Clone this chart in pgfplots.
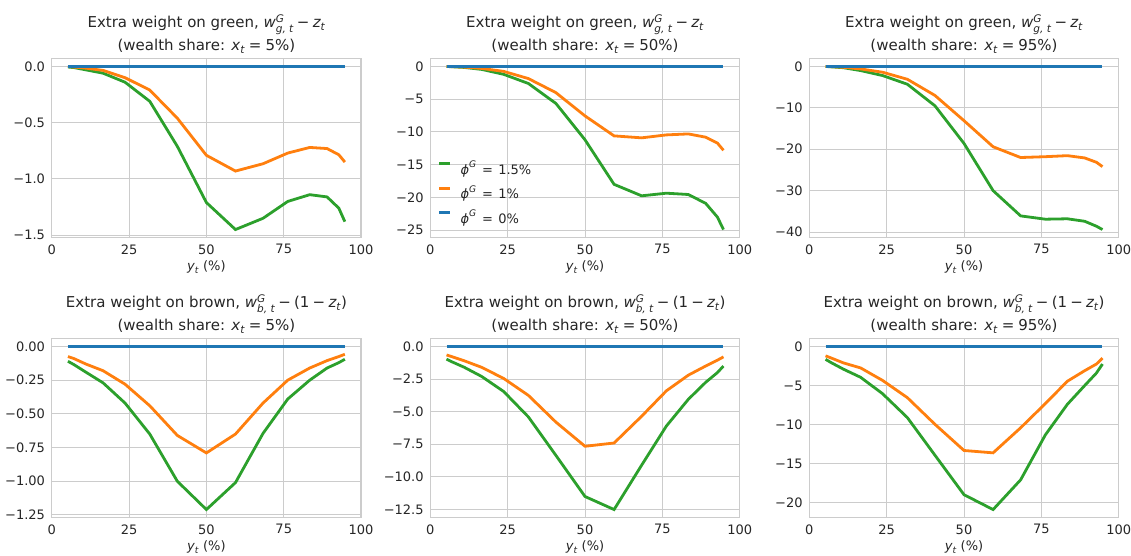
\documentclass[border=0pt]{standalone}
\usepackage{amsmath}
\usepackage{fontspec}
\setmainfont{DejaVu Sans}
\usepackage{pgfplots}
\usepackage{pgfplotstable}
\pgfplotsset{compat=1.18}
\definecolor{tabblue}{HTML}{1F77B4}
\definecolor{taborange}{HTML}{FF7F0E}
\definecolor{tabgreen}{HTML}{2CA02C}
\definecolor{gridc}{HTML}{CCCCCC}
\definecolor{textc}{HTML}{262626}
\newcommand{\mi}[1]{\text{\itshape #1}}
\newcommand{\mminus}{\mathbin{\text{−}}}
\newcommand{\meq}{\mathrel{\text{=}}}
\newcommand{\mn}{\makebox[0.838em][c]{−}}

% columns: y_t (%), green phi=1.5%, orange phi=1%, blue phi=0%
\pgfplotstableread{
x g o b
5.25 -0.005 0.000 0
7.2 -0.010 -0.005 0
11.0 -0.030 -0.015 0
16.6 -0.060 -0.035 0
23.7 -0.140 -0.100 0
31.7 -0.310 -0.210 0
40.6 -0.710 -0.460 0
50.0 -1.210 -0.790 0
59.4 -1.450 -0.930 0
68.3 -1.350 -0.865 0
76.3 -1.200 -0.770 0
83.4 -1.140 -0.720 0
89.0 -1.160 -0.730 0
92.8 -1.260 -0.785 0
94.75 -1.380 -0.850 0
}\greenA
\pgfplotstableread{
x g o b
5.25 0 0 0
7.2 -0.05 -0.03 0
11.0 -0.15 -0.10 0
16.6 -0.45 -0.30 0
23.7 -1.2 -0.75 0
31.7 -2.6 -1.85 0
40.6 -5.65 -4.0 0
50.0 -11.2 -7.55 0
59.4 -18.0 -10.6 0
68.3 -19.75 -10.9 0
76.3 -19.35 -10.45 0
83.4 -19.55 -10.3 0
89.0 -20.9 -10.8 0
92.8 -23.0 -11.7 0
94.75 -24.9 -12.8 0
}\greenB
\pgfplotstableread{
x g o b
5.25 0 0 0
7.2 -0.1 -0.05 0
11.0 -0.3 -0.2 0
16.6 -1.0 -0.6 0
23.7 -2.2 -1.4 0
31.7 -4.3 -3.1 0
40.6 -9.5 -7.0 0
50.0 -18.6 -13.1 0
59.4 -30.0 -19.4 0
68.3 -36.1 -22.0 0
76.3 -36.9 -21.8 0
83.4 -36.8 -21.55 0
89.0 -37.4 -22.1 0
92.8 -38.6 -23.15 0
94.75 -39.4 -24.2 0
}\greenC
\pgfplotstableread{
x g o b
5.25 -0.110 -0.075 0
7.2 -0.135 -0.090 0
11.0 -0.190 -0.130 0
16.6 -0.270 -0.180 0
23.7 -0.420 -0.280 0
31.7 -0.650 -0.440 0
40.6 -1.000 -0.660 0
50.0 -1.210 -0.790 0
59.4 -1.010 -0.650 0
68.3 -0.645 -0.420 0
76.3 -0.390 -0.250 0
83.4 -0.250 -0.160 0
89.0 -0.160 -0.105 0
92.8 -0.120 -0.075 0
94.75 -0.095 -0.058 0
}\brownA
\pgfplotstableread{
x g o b
5.25 -0.97 -0.65 0
7.2 -1.2 -0.8 0
11.0 -1.6 -1.1 0
16.6 -2.3 -1.6 0
23.7 -3.45 -2.45 0
31.7 -5.4 -3.75 0
40.6 -8.35 -5.8 0
50.0 -11.5 -7.65 0
59.4 -12.5 -7.4 0
68.3 -9.1 -5.35 0
76.3 -6.1 -3.4 0
83.4 -4.05 -2.2 0
89.0 -2.75 -1.5 0
92.8 -2.0 -1.05 0
94.75 -1.5 -0.8 0
}\brownB
\pgfplotstableread{
x g o b
5.25 -1.65 -1.2 0
7.2 -2.1 -1.5 0
11.0 -2.9 -2.1 0
16.6 -3.95 -2.75 0
23.7 -6.05 -4.35 0
31.7 -9.1 -6.55 0
40.6 -13.9 -9.95 0
50.0 -18.95 -13.3 0
59.4 -20.85 -13.6 0
68.3 -17.05 -10.4 0
76.3 -11.3 -7.3 0
83.4 -7.4 -4.45 0
89.0 -5.0 -3.1 0
92.8 -3.4 -2.25 0
94.75 -2.25 -1.5 0
}\brownC

\pgfplotsset{
  pan/.style={
    scale only axis, width=309.4pt, height=179.4pt,
    anchor=north west,
    xmin=0, xmax=100,
    xtick={0,25,50,75,100}, xticklabels={0,25,50,75,100},
    major tick length=0pt,
    grid=major, grid style={gridc, line width=1pt},
    axis line style={gridc, line width=1.25pt},
    ticklabel style={font=\fontsize{13}{13}\selectfont, text=textc},
    yticklabel style={inner sep=0pt, xshift=-6.5pt},
    xticklabel style={inner sep=0pt, yshift=-6.5pt},
    xlabel={$\mi{y}_{\mi{t}}$ (\%)},
    xlabel style={at={(axis description cs:0.5,0)}, anchor=base, yshift=-33pt,
      font=\fontsize{13}{13}\selectfont, text=textc, inner sep=0pt},
    title style={at={(axis description cs:0.5,1)}, anchor=south, yshift=-1pt,
      align=center, inner sep=0pt, font=\fontsize{15}{23}\selectfont, text=textc},
    every axis plot/.append style={line width=2.8pt},
  },
  gtitle/.style={title={Extra weight on green, $\mi{w}^{\mi{G}}_{\mi{g, t}}\mminus\mi{z}_{\mi{t}}$\\(wealth share: $\mi{x}_{\mi{t}}\meq\text{#1\%}$)}},
  btitle/.style={title={Extra weight on brown, $\mi{w}^{\mi{G}}_{\mi{b, t}}\mminus\mathopen{\text{(}}\text{1}\mminus\mi{z}_{\mi{t}}\mathclose{\text{)}}$\\(wealth share: $\mi{x}_{\mi{t}}\meq\text{#1\%}$)}},
}

\begin{document}
\begin{tikzpicture}
\path[use as bounding box] (0pt,0pt) rectangle (1131pt,-556pt);

\begin{axis}[pan, gtitle=5, at={(51.7pt,-58.3pt)},
  ymin=-1.5225, ymax=0.0725,
  ytick={0,-0.5,-1,-1.5}, yticklabels={0.0,\mn0.5,\mn1.0,\mn1.5}]
\addplot[tabgreen] table[x=x,y=g] {\greenA};
\addplot[taborange] table[x=x,y=o] {\greenA};
\addplot[tabblue] table[x=x,y=b] {\greenA};
\end{axis}

\begin{axis}[pan, gtitle=50, at={(430.3pt,-58.3pt)},
  ymin=-26.145, ymax=1.245,
  ytick={0,-5,-10,-15,-20,-25}, yticklabels={0,\mn5,\mn10,\mn15,\mn20,\mn25},
  legend style={draw=none, fill=none, inner sep=0pt, column sep=0pt,
    nodes={inner sep=0pt},
    at={(axis description cs:0.024,0.25)}, anchor=west,
    font=\fontsize{13}{13}\selectfont, text=textc, row sep=9.5pt},
  legend cell align=left,
  legend image code/.code={\draw[#1, line width=3pt] (0pt,4.6pt) -- (10.6pt,4.6pt); \path (19.8pt,4.6pt);}]
\addplot[tabgreen] table[x=x,y=g] {\greenB};
\addplot[taborange] table[x=x,y=o] {\greenB};
\addplot[tabblue] table[x=x,y=b] {\greenB};
\legend{$\mi{ϕ}^{\mi{G}}\,\meq\,\text{1.5\%}$, $\mi{ϕ}^{\mi{G}}\,\meq\,\text{1\%}$, $\mi{ϕ}^{\mi{G}}\,\meq\,\text{0\%}$}
\end{axis}

\begin{axis}[pan, gtitle=95, at={(809.3pt,-58.3pt)},
  ymin=-41.37, ymax=1.97,
  ytick={0,-10,-20,-30,-40}, yticklabels={0,\mn10,\mn20,\mn30,\mn40}]
\addplot[tabgreen] table[x=x,y=g] {\greenC};
\addplot[taborange] table[x=x,y=o] {\greenC};
\addplot[tabblue] table[x=x,y=b] {\greenC};
\end{axis}

\begin{axis}[pan, btitle=5, at={(51.7pt,-338.3pt)},
  ymin=-1.2705, ymax=0.0605,
  ytick={0,-0.25,-0.5,-0.75,-1,-1.25}, yticklabels={0.00,\mn0.25,\mn0.50,\mn0.75,\mn1.00,\mn1.25}]
\addplot[tabgreen] table[x=x,y=g] {\brownA};
\addplot[taborange] table[x=x,y=o] {\brownA};
\addplot[tabblue] table[x=x,y=b] {\brownA};
\end{axis}

\begin{axis}[pan, btitle=50, at={(430.3pt,-338.3pt)},
  ymin=-13.125, ymax=0.625,
  ytick={0,-2.5,-5,-7.5,-10,-12.5}, yticklabels={0.0,\mn2.5,\mn5.0,\mn7.5,\mn10.0,\mn12.5}]
\addplot[tabgreen] table[x=x,y=g] {\brownB};
\addplot[taborange] table[x=x,y=o] {\brownB};
\addplot[tabblue] table[x=x,y=b] {\brownB};
\end{axis}

\begin{axis}[pan, btitle=95, at={(809.3pt,-338.3pt)},
  ymin=-21.89, ymax=1.04,
  ytick={0,-5,-10,-15,-20}, yticklabels={0,\mn5,\mn10,\mn15,\mn20}]
\addplot[tabgreen] table[x=x,y=g] {\brownC};
\addplot[taborange] table[x=x,y=o] {\brownC};
\addplot[tabblue] table[x=x,y=b] {\brownC};
\end{axis}
\end{tikzpicture}
\end{document}
